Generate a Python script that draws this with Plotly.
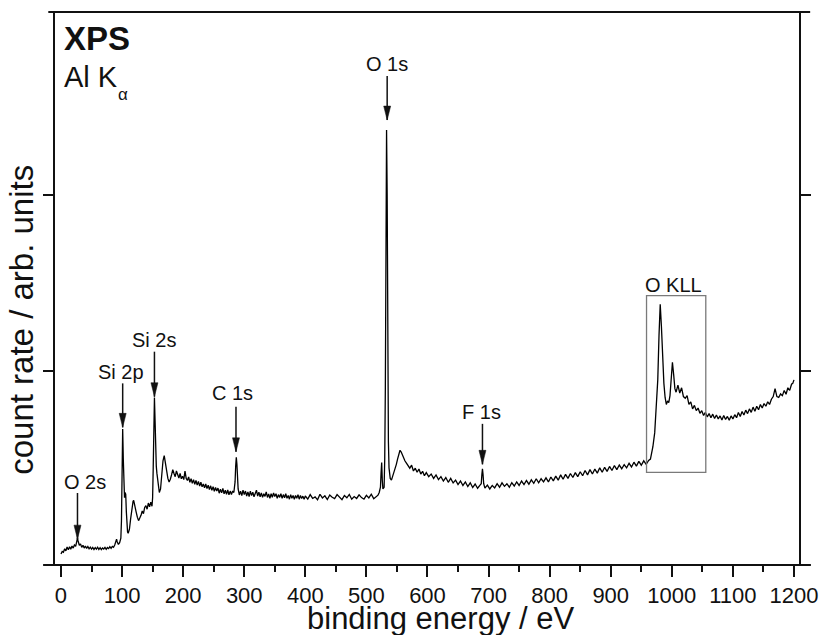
import plotly.graph_objects as go

# ---------------- data ----------------
energy_ev = [
    0, 2, 4, 6, 8, 10, 12, 14, 16, 18,
    20, 22, 24, 26, 27, 28, 30, 32, 34, 36,
    38, 40, 42, 44, 46, 48, 50, 52, 54, 56,
    58, 60, 62, 64, 66, 68, 70, 72, 74, 76,
    78, 80, 82, 84, 86, 88, 90, 91, 92, 94,
    96, 98, 99, 100, 101, 102, 103, 104, 105, 106,
    107, 108, 109, 110, 112, 114, 116, 118, 119, 121,
    123, 125, 127, 129, 131, 133, 135, 137, 139, 141,
    143, 145, 147, 149, 150, 151, 152, 153, 154, 155,
    156, 157, 159, 161, 163, 165, 167, 169, 171, 173,
    175, 177, 179, 181, 183, 185, 187, 189, 191, 193,
    195, 197, 199, 201, 203, 205, 207, 209, 211, 213,
    215, 217, 219, 221, 223, 225, 227, 229, 231, 233,
    235, 237, 239, 241, 243, 245, 247, 249, 251, 253,
    255, 257, 259, 261, 263, 265, 267, 269, 271, 273,
    275, 277, 279, 281, 283, 285, 286, 287, 288, 289,
    290, 292, 294, 296, 298, 300, 302, 304, 306, 308,
    310, 312, 314, 316, 318, 320, 322, 324, 326, 328,
    330, 332, 334, 336, 338, 340, 342, 344, 346, 348,
    350, 352, 354, 356, 358, 360, 362, 364, 366, 368,
    370, 372, 374, 376, 378, 380, 382, 384, 386, 388,
    390, 392, 394, 396, 398, 400, 404, 408, 412, 416,
    420, 424, 428, 432, 436, 440, 444, 448, 452, 456,
    460, 464, 468, 472, 476, 480, 484, 488, 492, 496,
    500, 504, 508, 512, 516, 519, 521, 523, 524, 525,
    526, 527, 529, 530, 531, 532, 533, 534, 535, 536,
    537, 539, 541, 543, 545, 547, 549, 551, 553, 555,
    557, 559, 561, 563, 565, 568, 571, 574, 577, 580,
    583, 586, 589, 592, 595, 598, 602, 606, 610, 614,
    618, 622, 626, 630, 634, 638, 642, 646, 650, 654,
    658, 662, 666, 670, 674, 678, 682, 686, 688, 689,
    690, 691, 692, 694, 698, 702, 706, 710, 714, 718,
    722, 726, 730, 734, 738, 742, 746, 750, 754, 758,
    762, 766, 770, 774, 778, 782, 786, 790, 794, 798,
    802, 806, 810, 814, 818, 822, 826, 830, 834, 838,
    842, 846, 850, 854, 858, 862, 866, 870, 874, 878,
    882, 886, 890, 894, 898, 902, 906, 910, 914, 918,
    922, 926, 930, 934, 938, 942, 946, 950, 954, 958,
    962, 965, 967, 969, 972, 975, 977, 979, 981, 983,
    985, 987, 989, 991, 993, 995, 997, 999, 1001, 1003,
    1005, 1007, 1010, 1013, 1016, 1019, 1022, 1025, 1028, 1031,
    1034, 1037, 1040, 1043, 1046, 1049, 1052, 1055, 1058, 1061,
    1064, 1067, 1070, 1073, 1076, 1079, 1082, 1085, 1088, 1091,
    1094, 1097, 1100, 1103, 1106, 1109, 1112, 1115, 1118, 1121,
    1124, 1127, 1130, 1133, 1136, 1139, 1142, 1145, 1148, 1151,
    1154, 1157, 1160, 1163, 1166, 1169, 1172, 1175, 1178, 1181,
    1184, 1187, 1190, 1193, 1196, 1198, 1200,
]

intensity = [
    -0.04, -0.025, -0.03, -0.01, -0.022, 0.0, -0.016, 0.002, -0.012, 0.006,
    -0.006, 0.012, 0.004, 0.03, 0.05, 0.035, 0.01, 0.018, -0.002, 0.01,
    -0.006, 0.006, -0.008, 0.003, -0.01, -0.001, -0.012, -0.002, -0.014, -0.003,
    -0.012, -0.001, -0.014, -0.004, -0.015, -0.005, -0.011, -0.002, -0.013, -0.003,
    -0.009, 0.002, -0.007, 0.004, -0.001, 0.012, 0.03, 0.045, 0.03, 0.015,
    0.025, 0.05, 0.15, 0.45, 0.67, 0.5, 0.33, 0.28, 0.31, 0.3,
    0.2, 0.12, 0.085, 0.078, 0.1, 0.16, 0.22, 0.26, 0.265, 0.24,
    0.2, 0.17, 0.15, 0.165, 0.18, 0.205, 0.19, 0.225, 0.235, 0.215,
    0.25, 0.228, 0.255, 0.232, 0.28, 0.45, 0.7, 0.85, 0.72, 0.55,
    0.46, 0.42, 0.35, 0.31, 0.33, 0.42, 0.49, 0.52, 0.48, 0.42,
    0.39, 0.37, 0.385, 0.41, 0.44, 0.418, 0.40, 0.432, 0.405, 0.392,
    0.418, 0.388, 0.402, 0.383, 0.432, 0.39, 0.378, 0.398, 0.368, 0.388,
    0.362, 0.383, 0.356, 0.378, 0.352, 0.373, 0.346, 0.368, 0.342, 0.358,
    0.336, 0.358, 0.332, 0.352, 0.326, 0.348, 0.322, 0.343, 0.317, 0.338,
    0.318, 0.335, 0.306, 0.328, 0.308, 0.333, 0.302, 0.323, 0.30, 0.324,
    0.297, 0.318, 0.298, 0.318, 0.31, 0.37, 0.46, 0.51, 0.47, 0.39,
    0.33, 0.296, 0.318, 0.292, 0.323, 0.298, 0.318, 0.29, 0.313, 0.287,
    0.318, 0.292, 0.312, 0.286, 0.308, 0.323, 0.29, 0.312, 0.286, 0.308,
    0.282, 0.303, 0.288, 0.313, 0.282, 0.302, 0.277, 0.303, 0.283, 0.308,
    0.287, 0.303, 0.277, 0.298, 0.282, 0.303, 0.277, 0.298, 0.28, 0.303,
    0.277, 0.293, 0.272, 0.298, 0.277, 0.293, 0.272, 0.293, 0.277, 0.298,
    0.272, 0.293, 0.276, 0.289, 0.272, 0.29, 0.272, 0.298, 0.276, 0.285,
    0.268, 0.30, 0.279, 0.291, 0.27, 0.296, 0.283, 0.275, 0.298, 0.281,
    0.269, 0.293, 0.28, 0.299, 0.272, 0.287, 0.276, 0.297, 0.281, 0.272,
    0.294, 0.279, 0.30, 0.275, 0.29, 0.295, 0.31, 0.34, 0.42, 0.48,
    0.38, 0.33, 0.34, 0.5, 0.9, 1.7, 2.37, 2.0, 1.1, 0.6,
    0.45, 0.39, 0.38, 0.40, 0.42, 0.44, 0.47, 0.50, 0.53, 0.55,
    0.54, 0.52, 0.50, 0.49, 0.48, 0.465, 0.448, 0.465, 0.432, 0.448,
    0.425, 0.443, 0.415, 0.43, 0.405, 0.423, 0.40, 0.415, 0.39, 0.41,
    0.383, 0.40, 0.375, 0.395, 0.368, 0.39, 0.364, 0.38, 0.355, 0.375,
    0.35, 0.37, 0.344, 0.365, 0.338, 0.358, 0.334, 0.352, 0.36, 0.41,
    0.445, 0.41, 0.36, 0.335, 0.352, 0.33, 0.35, 0.336, 0.36, 0.34,
    0.365, 0.345, 0.36, 0.34, 0.366, 0.347, 0.37, 0.35, 0.375, 0.355,
    0.378, 0.357, 0.382, 0.362, 0.388, 0.365, 0.388, 0.37, 0.393, 0.37,
    0.398, 0.376, 0.403, 0.38, 0.41, 0.385, 0.413, 0.39, 0.418, 0.395,
    0.423, 0.40, 0.428, 0.405, 0.435, 0.41, 0.44, 0.415, 0.443, 0.42,
    0.45, 0.425, 0.453, 0.43, 0.458, 0.435, 0.463, 0.44, 0.466, 0.445,
    0.468, 0.45, 0.476, 0.455, 0.482, 0.46, 0.487, 0.465, 0.49, 0.47,
    0.492, 0.50, 0.53, 0.57, 0.65, 0.80, 0.95, 1.2, 1.38, 1.25,
    1.05, 0.93, 0.85, 0.81, 0.83, 0.82, 0.86, 0.95, 1.05, 0.98,
    0.90, 0.88, 0.92, 0.875, 0.905, 0.855, 0.845, 0.86, 0.81, 0.825,
    0.785, 0.805, 0.775, 0.79, 0.76, 0.775, 0.748, 0.765, 0.74, 0.758,
    0.735, 0.755, 0.73, 0.75, 0.728, 0.745, 0.722, 0.748, 0.725, 0.742,
    0.72, 0.745, 0.728, 0.752, 0.735, 0.765, 0.742, 0.77, 0.75, 0.778,
    0.758, 0.785, 0.765, 0.795, 0.772, 0.80, 0.78, 0.81, 0.79, 0.815,
    0.80, 0.825, 0.81, 0.84, 0.855, 0.90, 0.855, 0.85, 0.87, 0.86,
    0.89, 0.868, 0.905, 0.89, 0.925, 0.93, 0.95,
]

# peak labels with arrows
peak_labels = ["O 2s", "Si 2p", "Si 2s", "C 1s", "O 1s", "F 1s"]
label_x = [39, 97.5, 152, 281.5, 533, 689]
label_y = [0.371, 0.996, 1.176, 0.873, 2.744, 0.77]
arrow_x = [27, 101, 153, 286.5, 534, 690]
arrow_tail = [0.307, 0.93, 1.11, 0.797, 2.676, 0.70]
arrow_tip = [0.045, 0.68, 0.854, 0.541, 2.426, 0.47]

# O KLL box
kll_label = "O KLL"
kll_x = [958.6, 1055.6]
kll_y = [0.424, 1.428]
kll_label_pos = (1003, 1.49)

x_ticks = list(range(0, 1201, 100))
y_ticks = [1, 2]

FONT = "Liberation Sans, Arial, sans-serif"
INK = "#111111"

fig = go.Figure()
fig.add_trace(go.Scatter(x=energy_ev, y=intensity, mode="lines",
                         line=dict(color="black", width=1.3), showlegend=False,
                         hoverinfo="skip"))

shapes = []
annotations = []
for lab, lx, ly, ax_, at, ap in zip(peak_labels, label_x, label_y, arrow_x, arrow_tail, arrow_tip):
    annotations.append(dict(x=lx, y=ly, xref="x", yref="y", text=lab, showarrow=False,
                            font=dict(family=FONT, size=20, color=INK),
                            xanchor="center", yanchor="middle"))
    shapes.append(dict(type="line", xref="x", yref="y", x0=ax_, x1=ax_, y0=at, y1=ap,
                       line=dict(color=INK, width=1.5)))
    shapes.append(dict(type="path", xref="x", yref="y", xsizemode="pixel", ysizemode="pixel",
                       xanchor=ax_, yanchor=ap, path="M -3.5 14 L 3.5 14 L 0 0 Z",
                       fillcolor=INK, line=dict(color=INK, width=0.5)))

shapes.append(dict(type="rect", xref="x", yref="y", x0=kll_x[0], x1=kll_x[1],
                   y0=kll_y[0], y1=kll_y[1], line=dict(color="#7a7a7a", width=1.3)))
annotations.append(dict(x=kll_label_pos[0], y=kll_label_pos[1], xref="x", yref="y", text=kll_label,
                        showarrow=False, font=dict(family=FONT, size=20, color=INK),
                        xanchor="center", yanchor="middle"))

# frame lines (top/bottom extended past the corners like the original)
shapes.append(dict(type="line", xref="paper", yref="paper", x0=-0.016, x1=1.016, y0=0, y1=0,
                   line=dict(color=INK, width=2)))
shapes.append(dict(type="line", xref="paper", yref="paper", x0=-0.009, x1=1.015, y0=1, y1=1,
                   line=dict(color=INK, width=2)))

# top-left labels
annotations.append(dict(x=0.009, y=0.952, xref="paper", yref="paper", text="<b>XPS</b>",
                        showarrow=False, xanchor="left", yanchor="middle",
                        font=dict(family=FONT, size=33, color=INK)))
annotations.append(dict(x=0.009, y=0.8825, xref="paper", yref="paper", text="Al K",
                        showarrow=False, xanchor="left", yanchor="middle",
                        font=dict(family=FONT, size=29, color=INK)))
annotations.append(dict(x=0.0815, y=0.851, xref="paper", yref="paper", text="α",
                        showarrow=False, xanchor="left", yanchor="middle",
                        font=dict(family=FONT, size=17, color=INK)))

# axis titles
annotations.append(dict(x=0.5175, y=-0.097, xref="paper", yref="paper", text="binding energy / eV",
                        showarrow=False, xanchor="center", yanchor="middle",
                        font=dict(family=FONT, size=31, color=INK)))
annotations.append(dict(x=-0.046, y=0.443, xref="paper", yref="paper", text="count rate / arb. units",
                        showarrow=False, xanchor="center", yanchor="middle", textangle=-90,
                        font=dict(family=FONT, size=33, color=INK)))

fig.update_layout(
    width=820, height=635,
    margin=dict(l=55, r=21, t=12, b=70, autoexpand=False),
    paper_bgcolor="white", plot_bgcolor="white",
    font=dict(family=FONT, color=INK),
    shapes=shapes, annotations=annotations,
    xaxis=dict(range=[-9.8, 1208.2], tickvals=x_ticks, ticks="outside", ticklen=11, tickwidth=2,
               tickcolor=INK, showline=False, showgrid=False, zeroline=False, automargin=False,
               tickfont=dict(family=FONT, size=22, color=INK),
               minor=dict(dtick=50, tick0=0, ticks="outside", ticklen=6, tickwidth=1.5, tickcolor=INK,
                          showgrid=False)),
    yaxis=dict(range=[-0.102, 3.04], tickvals=y_ticks, showticklabels=False, ticks="outside",
               ticklen=10, tickwidth=2, tickcolor=INK, showline=True, linewidth=2, linecolor=INK,
               mirror="ticks", showgrid=False, zeroline=False, automargin=False),
)

fig.write_html("out.html")
